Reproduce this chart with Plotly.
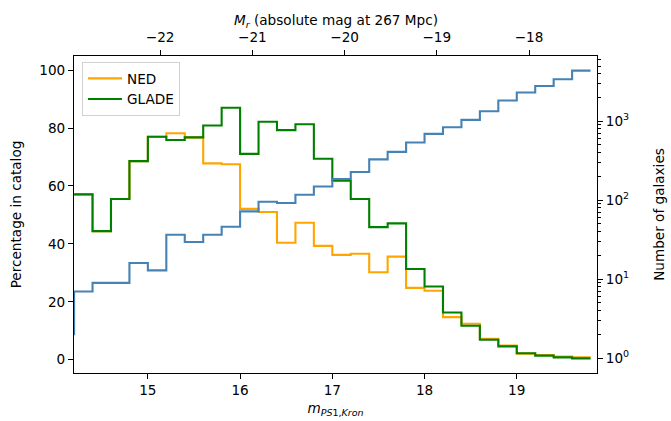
import plotly.graph_objects as go

# Bin left edges (magnitude m_PS1,Kron), bin width 0.2
bin_edges = [14.2, 14.4, 14.6, 14.8, 15.0, 15.2, 15.4, 15.6, 15.8, 16.0,
             16.2, 16.4, 16.6, 16.8, 17.0, 17.2, 17.4, 17.6, 17.8, 18.0,
             18.2, 18.4, 18.6, 18.8, 19.0, 19.2, 19.4, 19.6, 19.8]

ned_pct = [57.1, 44.4, 55.5, 68.6, 77.0, 78.2, 76.8, 67.8, 67.5, 52.1,
           51.0, 40.4, 47.3, 39.3, 36.2, 36.6, 30.2, 35.6, 24.8, 23.8,
           14.7, 12.4, 7.2, 4.9, 2.1, 1.6, 1.1, 0.8]
glade_pct = [57.1, 44.4, 55.5, 68.6, 77.0, 75.9, 76.8, 80.9, 87.0, 71.1,
             82.2, 79.3, 81.3, 69.4, 61.8, 55.5, 45.8, 47.1, 31.3, 25.3,
             16.3, 11.7, 6.9, 4.6, 2.2, 1.4, 0.8, 0.45]

# Galaxy counts; first bin starts at 14.0
count_edges = [14.0] + bin_edges
n_galaxies = [2.0, 6.95, 8.95, 8.95, 16.0, 12.9, 36.5, 29.5, 36.5, 46,
              72, 95.5, 92, 117, 149, 185, 227, 328, 409, 538,
              691, 840, 1038, 1336, 1828, 2306, 2795, 3396, 4375]

bottom_ticks = [15, 16, 17, 18, 19]
top_ticks = [-22, -21, -20, -19, -18]
top_tick_text = ["\u221222", "\u221221", "\u221220", "\u221219", "\u221218"]
left_ticks = [0, 20, 40, 60, 80, 100]
right_ticks = [1, 10, 100, 1000]
right_tick_text = ["10<sup>0</sup>", "10<sup>1</sup>", "10<sup>2</sup>", "10<sup>3</sup>"]
right_minor = [m * 10 ** e for e in range(0, 4) for m in range(2, 10)]

dist_mod = 37.133  # 267 Mpc
xlim = [14.199, 19.87]

FONT = "DejaVu Sans"
FS = 13.6
LW = 1.1

def steps(vals):
    return vals + [vals[-1]]

fig = go.Figure()
fig.add_trace(go.Scatter(x=bin_edges, y=steps(ned_pct), mode="lines",
                         line=dict(shape="hv", color="#FFA500", width=2.1),
                         name="NED", legendgroup="a"))
fig.add_trace(go.Scatter(x=bin_edges, y=steps(glade_pct), mode="lines",
                         line=dict(shape="hv", color="#008000", width=2.1),
                         name="GLADE", legendgroup="b"))
fig.add_trace(go.Scatter(x=count_edges, y=steps(n_galaxies), mode="lines",
                         line=dict(shape="hv", color="#4682B4", width=2.1),
                         yaxis="y2", showlegend=False))
# invisible trace to activate top axis
fig.add_trace(go.Scatter(x=[xlim[0] - dist_mod], y=[None], xaxis="x2",
                         showlegend=False, hoverinfo="skip"))

axis_common = dict(showline=True, linecolor="black", linewidth=LW,
                   ticks="outside", ticklen=5, tickwidth=LW, tickcolor="black",
                   showgrid=False, zeroline=False, automargin=False,
                   tickfont=dict(family=FONT, size=FS, color="black"))

fig.update_layout(
    width=671, height=421,
    margin=dict(l=74, r=74, t=56, b=48),
    plot_bgcolor="white", paper_bgcolor="white",
    font=dict(family=FONT, size=FS, color="black"),
    xaxis=dict(range=xlim, tickmode="array", tickvals=bottom_ticks,
               title=dict(text="<i>m</i><sub><i>PS</i>1,<i>Kron</i></sub>",
                          font=dict(family=FONT, size=FS), standoff=6),
               **axis_common),
    xaxis2=dict(range=[xlim[0] - dist_mod, xlim[1] - dist_mod], overlaying="x",
                side="top", anchor="y", tickmode="array", tickvals=top_ticks,
                ticktext=top_tick_text, ticklabelstandoff=3,
                **axis_common),
    yaxis=dict(range=[-4.6, 104.9], tickmode="array", tickvals=left_ticks,
               title=dict(text="Percentage in catalog",
                          font=dict(family=FONT, size=FS), standoff=14),
               **axis_common),
    yaxis2=dict(type="log", range=[-0.19, 3.826], overlaying="y", side="right",
                anchor="x", tickmode="array", tickvals=right_ticks,
                ticktext=right_tick_text,
                minor=dict(tickmode="array", tickvals=right_minor, ticks="outside",
                           ticklen=3, tickwidth=0.8, tickcolor="black"),
                title=dict(text="Number of galaxies",
                           font=dict(family=FONT, size=FS), standoff=26),
                **axis_common),
    legend=dict(x=0.0153, y=0.981, xanchor="left", yanchor="top",
                bgcolor="rgba(255,255,255,0.8)", bordercolor="#d0d0d0",
                borderwidth=1, font=dict(family=FONT, size=FS),
                itemwidth=34, tracegroupgap=3, traceorder="normal"),
    annotations=[dict(text="<i>M</i><sub><i>r</i></sub> (absolute mag at 267 Mpc)",
                      xref="paper", yref="paper", x=0.5, y=1 + (56 - 21) / 317,
                      xanchor="center", yanchor="middle", showarrow=False,
                      font=dict(family=FONT, size=FS, color="black"))],
)

fig.write_html("out.html", config={"displayModeBar": False},
               post_script="document.body.style.margin='0';document.body.style.overflow='hidden';")
